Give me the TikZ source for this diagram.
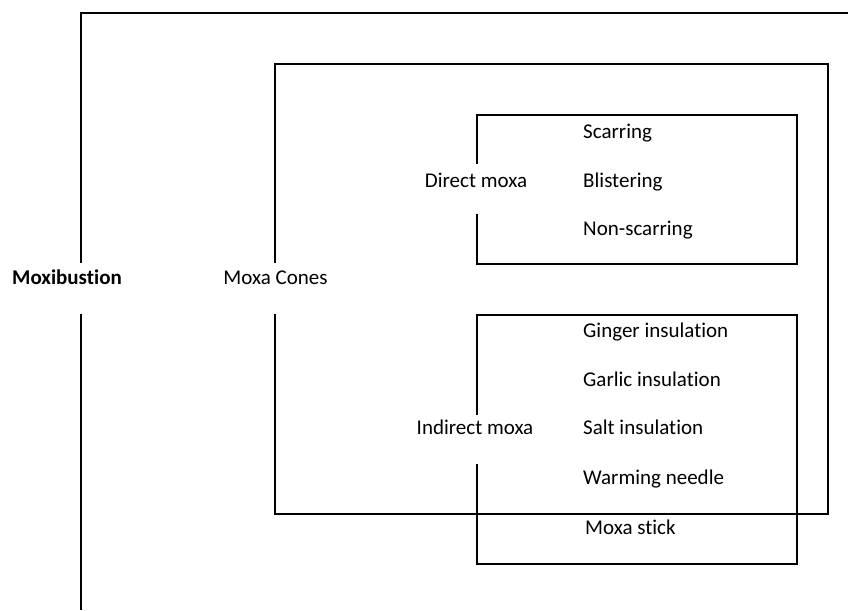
\documentclass[tikz,border=0pt]{standalone}
\usepackage{fontspec}
\setmainfont{Carlito}[RawFeature={-liga;-clig;-dlig}]
\begin{document}
\begin{tikzpicture}[x=1pt,y=-1pt,
  line/.style={line width=2.5pt,line join=miter},
  lbl/.style={inner sep=0pt,font=\fontsize{21}{25}\selectfont,text height=14.5pt,text depth=4.5pt},
  leaf/.style={lbl,anchor=west}]
\useasboundingbox (0,0) rectangle (848,610);
% labels
\node[lbl,font=\fontsize{21}{25}\selectfont\bfseries] (mox) at (67,279) {Moxibustion};
\node[lbl] (cones) at (275.5,279) {Moxa Cones};
\node[lbl] (direct) at (476,182) {Direct moxa};
\node[lbl] (indirect) at (475,429) {Indirect moxa};
\node[leaf] (scar) at (583,133) {Scarring};
\node[leaf] (blis) at (583,182) {Blistering};
\node[leaf] (nons) at (583,230) {Non-scarring};
\node[leaf] (ging) at (583,332) {Ginger insulation};
\node[leaf] (garl) at (583,381) {Garlic insulation};
\node[leaf] (salt) at (583,429) {Salt insulation};
\node[leaf] (warm) at (583,479) {Warming needle};
\node[leaf] (stick) at (585,529) {Moxa stick};
% outer bracket
\coordinate (o1) at (81,263); \coordinate (o2) at (81,13); \coordinate (o3) at (848,13);
\coordinate (o4) at (81,314); \coordinate (o5) at (81,610);
\draw[line] (o1) -- (o2) -- (o3);
\draw[line] (o4) -- (o5);
% moxa cones
\coordinate (c1) at (275,263); \coordinate (c2) at (275,64); \coordinate (c3) at (828,64);
\coordinate (c4) at (828,514); \coordinate (c5) at (275,514); \coordinate (c6) at (275,314);
\draw[line] (c1) -- (c2) -- (c3) -- (c4) -- (c5) -- (c6);
% direct
\coordinate (d1) at (477,164); \coordinate (d2) at (477,115); \coordinate (d3) at (797,115);
\coordinate (d4) at (797,264); \coordinate (d5) at (477,264); \coordinate (d6) at (477,214);
\draw[line] (d1) -- (d2) -- (d3) -- (d4) -- (d5) -- (d6);
% indirect
\coordinate (i1) at (477,415); \coordinate (i2) at (477,315); \coordinate (i3) at (797,315);
\coordinate (i4) at (797,564); \coordinate (i5) at (477,564); \coordinate (i6) at (477,464);
\draw[line] (i1) -- (i2) -- (i3) -- (i4) -- (i5) -- (i6);
\end{tikzpicture}
\end{document}
